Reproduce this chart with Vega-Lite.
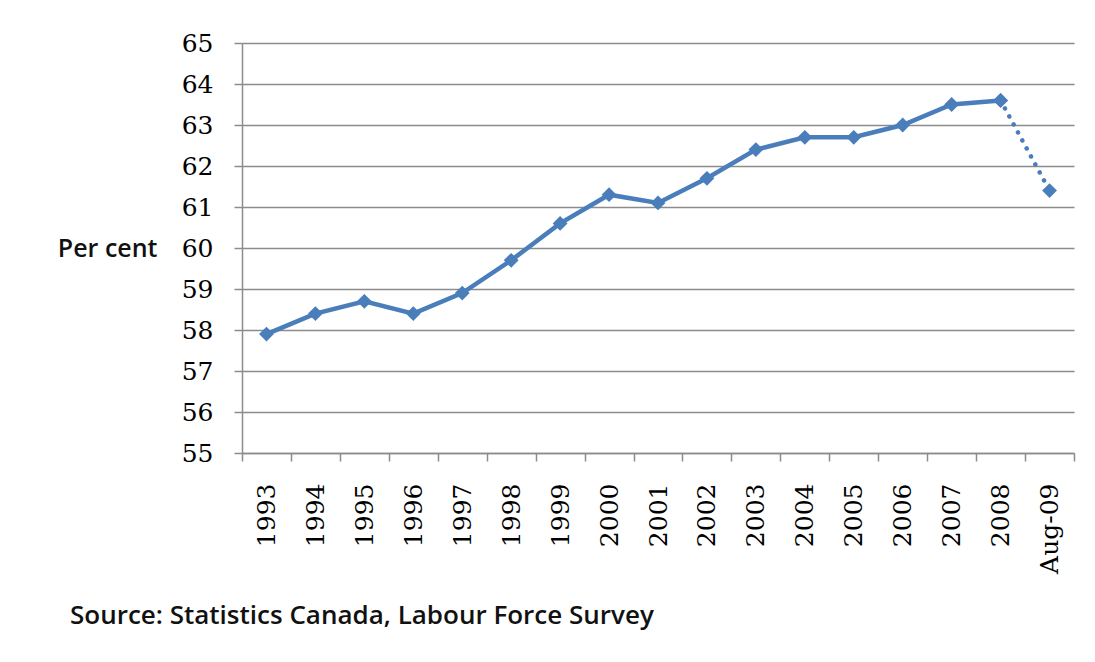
{
  "$schema": "https://vega.github.io/schema/vega-lite/v6.json",
  "autosize": "none",
  "width": 832,
  "height": 410,
  "padding": {"left": 242, "top": 43, "right": 21, "bottom": 209},
  "background": "white",
  "config": {"view": {"stroke": null}},
  "title": {
    "text": "Source: Statistics Canada, Labour Force Survey",
    "orient": "bottom",
    "anchor": "start",
    "frame": "group",
    "dx": -172,
    "offset": 30,
    "font": "Open Sans",
    "fontSize": 26,
    "fontWeight": 600,
    "color": "#111111"
  },
  "datasets": {
    "main": [
      {"period": "1993", "rate": 57.9},
      {"period": "1994", "rate": 58.4},
      {"period": "1995", "rate": 58.7},
      {"period": "1996", "rate": 58.4},
      {"period": "1997", "rate": 58.9},
      {"period": "1998", "rate": 59.7},
      {"period": "1999", "rate": 60.6},
      {"period": "2000", "rate": 61.3},
      {"period": "2001", "rate": 61.1},
      {"period": "2002", "rate": 61.7},
      {"period": "2003", "rate": 62.4},
      {"period": "2004", "rate": 62.7},
      {"period": "2005", "rate": 62.7},
      {"period": "2006", "rate": 63.0},
      {"period": "2007", "rate": 63.5},
      {"period": "2008", "rate": 63.6}
    ],
    "tail": [
      {"period": "2008", "rate": 63.6},
      {"period": "Aug-09", "rate": 61.4}
    ]
  },
  "encoding": {
    "x": {
      "field": "period",
      "type": "nominal",
      "sort": null,
      "scale": {"type": "band", "paddingInner": 0, "paddingOuter": 0, "domain": ["1993","1994","1995","1996","1997","1998","1999","2000","2001","2002","2003","2004","2005","2006","2007","2008","Aug-09"]},
      "axis": {
        "title": null,
        "labelAngle": -90,
        "labelFont": "DejaVu Serif",
        "labelFontSize": 25,
        "labelColor": "#000000",
        "labelPadding": 22,
        "labelOverlap": false,
        "tickBand": "extent",
        "tickSize": 8,
        "tickColor": "#8c8c8c",
        "domainColor": "#8c8c8c",
        "tickWidth": 1.5,
        "domainWidth": 1.5,
        "grid": false
      }
    },
    "y": {
      "field": "rate",
      "type": "quantitative",
      "scale": {"domain": [55, 65], "zero": false, "nice": false},
      "axis": {
        "title": "Per cent",
        "titleAngle": 0,
        "titleAlign": "right",
        "titleBaseline": "middle",
        "titleX": -85,
        "titleY": 205,
        "titleFont": "Open Sans",
        "titleFontSize": 25,
        "titleFontWeight": 600,
        "titleColor": "#111111",
        "values": [55,56,57,58,59,60,61,62,63,64,65],
        "labelFont": "DejaVu Serif",
        "labelFontSize": 25,
        "labelColor": "#000000",
        "labelPadding": 21,
        "labelOverlap": false,
        "tickSize": 8,
        "tickColor": "#8c8c8c",
        "tickWidth": 1.5,
        "domainColor": "#8c8c8c",
        "domainWidth": 1.5,
        "grid": true,
        "gridColor": "#8c8c8c",
        "gridWidth": 1.5
      }
    }
  },
  "layer": [
    {
      "data": {"name": "tail"},
      "mark": {"type": "line", "color": "#4a7ebb", "strokeWidth": 4.5, "strokeDash": [0.1, 9], "strokeCap": "round"}
    },
    {
      "data": {"name": "main"},
      "mark": {"type": "line", "color": "#4a7ebb", "strokeWidth": 4.5}
    },
    {
      "data": {"name": "main"},
      "mark": {"type": "point", "shape": "diamond", "filled": true, "size": 220, "color": "#4a7ebb", "opacity": 1}
    },
    {
      "data": {"name": "tail"},
      "mark": {"type": "point", "shape": "diamond", "filled": true, "size": 220, "color": "#4a7ebb", "opacity": 1}
    }
  ]
}
